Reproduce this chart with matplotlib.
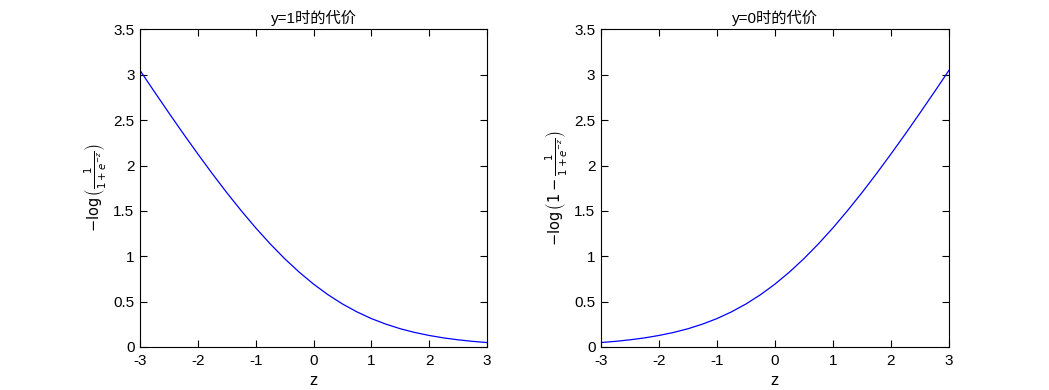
import matplotlib
matplotlib.use("Agg")
import matplotlib.pyplot as plt

plt.rcParams['font.family'] = ['Liberation Sans', 'Noto Sans CJK SC', 'DejaVu Sans']
plt.rcParams['mathtext.fontset'] = 'dejavusans'
plt.rcParams['axes.unicode_minus'] = False

z = [-3.0, -2.75, -2.5, -2.25, -2.0, -1.75, -1.5, -1.25, -1.0, -0.75, -0.5, -0.25,
     0.0, 0.25, 0.5, 0.75, 1.0, 1.25, 1.5, 1.75, 2.0, 2.25, 2.5, 2.75, 3.0]
cost_y1 = [3.049, 2.812, 2.579, 2.350, 2.127, 1.910, 1.701, 1.502, 1.313, 1.137, 0.974, 0.826,
           0.693, 0.576, 0.474, 0.387, 0.313, 0.252, 0.201, 0.160, 0.127, 0.100, 0.079, 0.062, 0.049]
cost_y0 = [0.049, 0.062, 0.079, 0.100, 0.127, 0.160, 0.201, 0.252, 0.313, 0.387, 0.474, 0.576,
           0.693, 0.826, 0.974, 1.137, 1.313, 1.502, 1.701, 1.910, 2.127, 2.350, 2.579, 2.812, 3.049]
titles = ["y=1时的代价", "y=0时的代价"]
ylabels = [r"$-\log\left(\frac{1}{1+e^{-z}}\right)$", r"$-\log\left(1-\frac{1}{1+e^{-z}}\right)$"]
xticks = [-3, -2, -1, 0, 1, 2, 3]
yticks = [0, 0.5, 1, 1.5, 2, 2.5, 3, 3.5]
ytick_labels = ["0", "0.5", "1", "1.5", "2", "2.5", "3", "3.5"]

fig = plt.figure(figsize=(10.49, 3.90), dpi=100)
positions = [[0.1335, 0.1103, 0.3308, 0.8141], [0.5729, 0.1103, 0.3317, 0.8141]]
for pos, ys, title, ylabel in zip(positions, [cost_y1, cost_y0], titles, ylabels):
    ax = fig.add_axes(pos)
    ax.plot(z, ys, color='#0000ff', linewidth=0.9)
    ax.set_xlim(-3, 3)
    ax.set_ylim(0, 3.5)
    ax.set_xticks(xticks)
    ax.set_yticks(yticks)
    ax.set_yticklabels(ytick_labels)
    ax.tick_params(direction='in', top=True, right=True, length=5, width=0.8, labelsize=11)
    ax.tick_params(axis='x', pad=5)
    ax.tick_params(axis='y', pad=4)
    for s in ax.spines.values():
        s.set_linewidth(0.8)
    ax.set_title(title, fontsize=11, pad=5)
    ax.set_xlabel("z", fontsize=12, labelpad=4)
    ax.set_ylabel(ylabel, fontsize=10.5, labelpad=4)

fig.savefig("out.png", dpi=100, facecolor='white')
